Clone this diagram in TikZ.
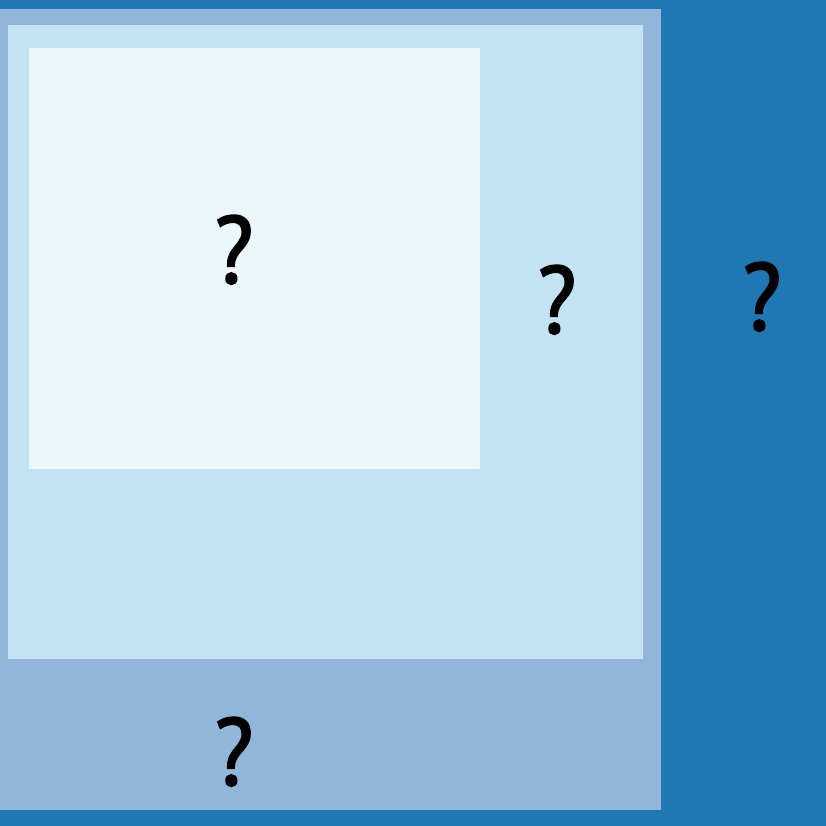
\documentclass[tikz,border=0pt]{standalone}
\usepackage{fontspec}
\newfontfamily\askfont[FakeBold=2.2,FakeStretch=0.92]{PT Sans}

\definecolor{darkblue}{HTML}{1F77B4}
\definecolor{midblue}{HTML}{92B6DA}
\definecolor{lightblue}{HTML}{C3E3F3}
\definecolor{paleblue}{HTML}{ECF7FC}

\tikzset{
  ask/.style={font=\askfont\fontsize{95}{95}\selectfont, inner sep=0pt, anchor=base}
}

\begin{document}
\begin{tikzpicture}[x=1pt,y=1pt]

% outer area
\fill[darkblue] (0,0) rectangle (826,826);
\useasboundingbox (0,0) rectangle (826,826);

% middle box
\fill[midblue] (0,16) rectangle (661,817);

% inner box
\fill[lightblue] (8,167) rectangle (643,801);

% innermost box
\fill[paleblue] (29,357) rectangle (480,778);

% labels
\node[ask] (inmost) at (234,543) {?};
\node[ask] (inner) at (557,493) {?};
\node[ask] (outer) at (762,496) {?};
\node[ask] (middle) at (234,41) {?};

\end{tikzpicture}
\end{document}
